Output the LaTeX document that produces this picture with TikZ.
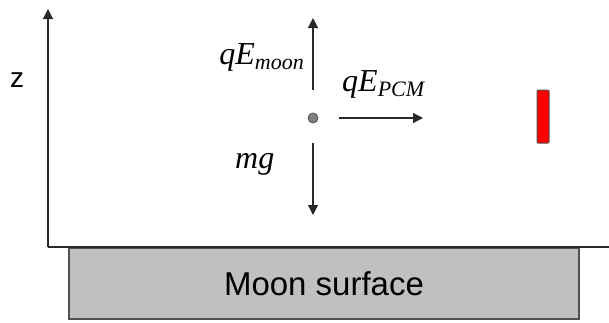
\documentclass[tikz,border=0pt]{standalone}
\usepackage{fontspec}
\setmainfont{Liberation Serif}
\setsansfont{Liberation Sans}
\usetikzlibrary{arrows.meta,positioning}
\definecolor{surfgray}{RGB}{192,192,192}
\definecolor{edgegray}{RGB}{80,80,80}
\definecolor{inkgray}{RGB}{40,40,40}
\newcommand{\forcelabel}[2]{\textit{#1}\raisebox{-5pt}{\fontsize{22}{22}\selectfont\textit{#2}}}

\begin{document}
\begin{tikzpicture}[
    x=1pt,y=-1pt,
    surface/.style={rectangle,draw=edgegray,fill=surfgray,line width=1.2pt,
      minimum width=510pt,minimum height=71pt,inner sep=0pt,
      font=\sffamily\fontsize{33}{33}\selectfont},
    particle/.style={circle,draw=edgegray,fill=gray,line width=0.8pt,
      minimum size=10pt,inner sep=0pt},
    plate/.style={rectangle,rounded corners=1pt,draw=edgegray,fill=red,
      line width=1pt,minimum width=12pt,minimum height=53pt,inner sep=0pt},
    lbl/.style={inner sep=0pt,font=\fontsize{32}{32}\selectfont},
    axis/.style={-{Triangle[length=10pt,width=10pt]},line width=1.2pt,draw=inkgray},
    ground/.style={line width=1.2pt,draw=inkgray},
    force/.style={-{Triangle[length=10pt,width=10pt]},line width=1.2pt,draw=inkgray}
  ]
    \useasboundingbox (0,0) rectangle (609,322);

    \coordinate (origin) at (48,247);
    \coordinate (ztip) at (48,9);
    \coordinate (xend) at (609,247);

    \node[surface] (moon) at (324,283.5) {Moon surface};
    \node[particle] (dust) at (313,118) {};
    \node[plate] (pcm) at (543,116.5) {};

    \coordinate (uptip) at (313,18);
    \coordinate (downtip) at (313,215);
    \coordinate (sidetip) at (423,118);

    \draw[axis] (origin) -- (ztip);
    \draw[ground] (origin) -- (xend);

    \draw[force,shorten <=23pt] (dust) -- (uptip);
    \draw[force,shorten <=20pt] (dust) -- (downtip);
    \draw[force,shorten <=21pt] (dust) -- (sidetip);

    \node[lbl,anchor=base west,font=\sffamily\fontsize{28}{28}\selectfont] (zlbl) at (10,87) {z};
    \node[lbl,anchor=base east] (moonlbl) at (304,64) {\forcelabel{qE}{moon}};
    \node[lbl,anchor=base west] (pcmlbl) at (342,91) {\forcelabel{qE}{PCM}};
    \node[lbl,anchor=base west] (mglbl) at (235,168) {\textit{mg}};
  \end{tikzpicture}
\end{document}
